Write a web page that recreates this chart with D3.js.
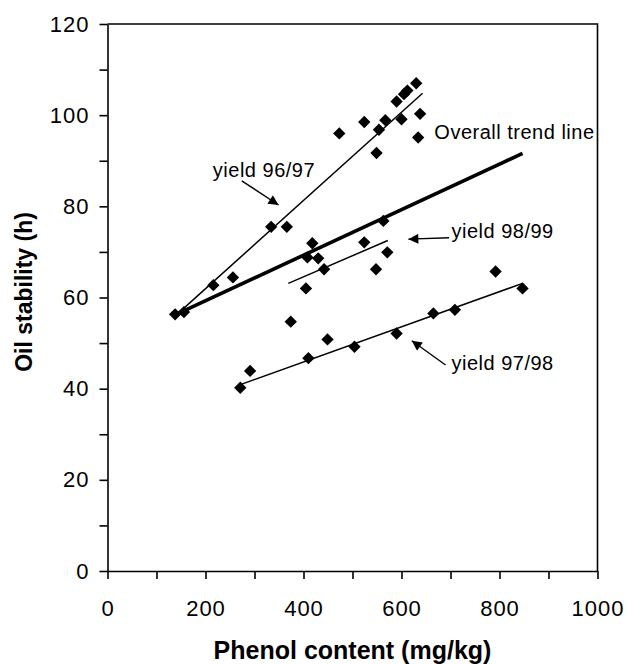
<!DOCTYPE html>
<html>
<head>
<meta charset="utf-8">
<script src="https://cdn.jsdelivr.net/npm/d3@7"></script>
<style>
  body { margin: 0; background: #fff; }
  text { font-family: "Liberation Sans", Arial, sans-serif; fill: #000; }
</style>
</head>
<body>
<script>
// phenol content (mg/kg) and oil stability (h)
var x9697 = [138, 156, 216, 256, 334, 366, 473, 524, 549, 554, 567, 590, 600, 605, 612, 630, 634, 638]
var y9697 = [56.3, 56.8, 62.7, 64.4, 75.5, 75.5, 96.0, 98.5, 91.7, 96.8, 98.9, 103.0, 99.1, 104.6, 105.4, 107.0, 95.1, 100.3]

var x9798 = [271, 291, 410, 449, 504, 590, 665, 709, 792, 847]
var y9798 = [40.2, 43.9, 46.7, 50.8, 49.2, 52.1, 56.5, 57.3, 65.7, 62.0]

var x9899 = [374, 405, 408, 418, 430, 442, 524, 548, 563, 571]
var y9899 = [54.7, 62.0, 68.8, 71.9, 68.6, 66.2, 72.1, 66.2, 76.8, 69.9]

// trend lines: [x start, x end], [y start, y end]
var trendNames = ['96/97', '97/98', '98/99', 'overall']
var trendX = [[148, 643], [274, 847], [369, 572], [138, 847]]
var trendY = [[56.9, 104.8], [41.0, 63.1], [63.1, 72.5], [56.2, 91.6]]

var xTicks = [0, 100, 200, 300, 400, 500, 600, 700, 800, 900, 1000]
var yTicks = [0, 10, 20, 30, 40, 50, 60, 70, 80, 90, 100, 110, 120]

var W = 627, H = 664

var svg = d3.select('body').append('svg')
  .attr('width', W)
  .attr('height', H)

svg.append('defs').append('marker')
  .attr('id', 'head')
  .attr('viewBox', '0 0 10 10')
  .attr('refX', 10)
  .attr('refY', 5)
  .attr('markerWidth', 13)
  .attr('markerHeight', 10)
  .attr('markerUnits', 'userSpaceOnUse')
  .attr('orient', 'auto')
  .append('path')
  .attr('d', 'M0,0 L10,5 L0,10 Z')
  .attr('fill', '#000')

var x = d3.scaleLinear().domain([0, 1000]).range([107.5, 597.5])
var y = d3.scaleLinear().domain([0, 120]).range([571, 24])

// axes
svg.append('g')
  .attr('transform', 'translate(0,' + y(0) + ')')
  .call(d3.axisBottom(x).tickValues(xTicks)
    .tickFormat(function(d){ return d % 200 === 0 ? d : '' })
    .tickSize(8).tickSizeOuter(0).tickPadding(21))
svg.append('g')
  .attr('transform', 'translate(' + x(0) + ',0)')
  .call(d3.axisLeft(y).tickValues(yTicks)
    .tickFormat(function(d){ return d % 20 === 0 ? d : '' })
    .tickSize(8).tickSizeOuter(0).tickPadding(10))

svg.selectAll('.domain, .tick line').attr('stroke', '#000').attr('stroke-width', 1.6)
svg.selectAll('.tick text')
  .attr('font-size', '22px')
  .attr('letter-spacing', '1px')
  .attr('font-family', '"Liberation Sans", Arial, sans-serif')
  .attr('fill', '#000')

// top and right border of the plot area
svg.append('path')
  .attr('d', 'M' + x(0) + ',' + y(120) + 'H' + x(1000) + 'V' + y(0))
  .attr('fill', 'none')
  .attr('stroke', '#000')
  .attr('stroke-width', 1.6)

// trend lines
trendNames.forEach(function(n, i){
  svg.append('line')
    .attr('x1', x(trendX[i][0])).attr('y1', y(trendY[i][0]))
    .attr('x2', x(trendX[i][1])).attr('y2', y(trendY[i][1]))
    .attr('stroke', '#000')
    .attr('stroke-width', n === 'overall' ? 3.6 : 1.5)
})

// points
var pts = []
;[[x9697, y9697], [x9798, y9798], [x9899, y9899]].forEach(function(s){
  s[0].forEach(function(v, i){ pts.push([v, s[1][i]]) })
})

svg.append('g').selectAll('path')
  .data(pts)
  .enter()
  .append('path')
  .attr('d', d3.symbol().type(d3.symbolSquare).size(76))
  .attr('transform', function(d){ return 'translate(' + x(d[0]) + ',' + y(d[1]) + ') rotate(45)' })
  .attr('fill', '#000')

// annotations
var notes = [
  {t: 'yield 96/97', x: 215, y: 86.5, a: [274, 85.6, 349, 80.3]},
  {t: 'Overall trend line', x: 667, y: 94.7},
  {t: 'yield 98/99', x: 702, y: 73.1, a: [697, 73.1, 614, 72.8]},
  {t: 'yield 97/98', x: 702, y: 44.1, a: [690, 45.2, 621, 50.5]}
]
notes.forEach(function(n){
  svg.append('text')
    .attr('x', x(n.x)).attr('y', y(n.y))
    .attr('font-size', '20px')
    .attr('letter-spacing', '0.5px')
    .text(n.t)
  if(n.a){
    svg.append('line')
      .attr('x1', x(n.a[0])).attr('y1', y(n.a[1]))
      .attr('x2', x(n.a[2])).attr('y2', y(n.a[3]))
      .attr('stroke', '#000')
      .attr('stroke-width', 1.4)
      .attr('marker-end', 'url(#head)')
  }
})

// axis titles
svg.append('text')
  .attr('x', (x(0) + x(1000)) / 2)
  .attr('y', 659)
  .attr('text-anchor', 'middle')
  .attr('font-size', '25px')
  .attr('font-weight', 'bold')
  .text('Phenol content (mg/kg)')

svg.append('text')
  .attr('transform', 'translate(32,292) rotate(-90)')
  .attr('text-anchor', 'middle')
  .attr('font-size', '23px')
  .attr('font-weight', 'bold')
  .text('Oil stability (h)')
</script>
</body>
</html>
